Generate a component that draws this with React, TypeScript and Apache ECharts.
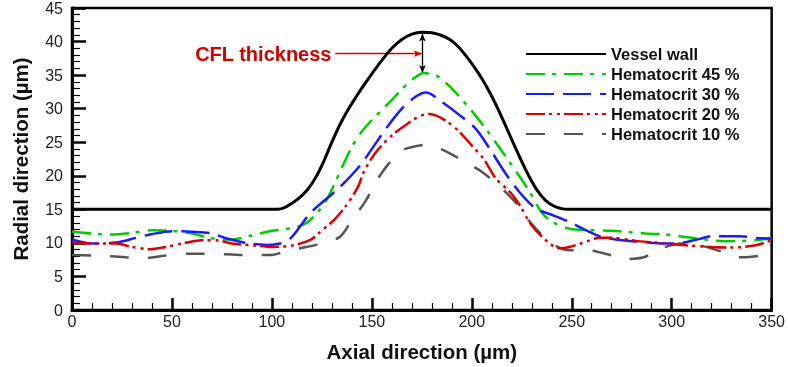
import React, { useEffect, useRef } from "react";
import * as echarts from "echarts";

const xTicks = { min: 0, max: 350, interval: 50 };
const yTicks = { min: 0, max: 45, interval: 5 };

const seriesNames = ["Vessel wall", "Hematocrit 45 %", "Hematocrit 30 %", "Hematocrit 20 %", "Hematocrit 10 %"];

const vesselWall: number[][] = [
  [0, 15], [100, 15], [103, 15], [106, 15.2], [110, 15.9], [114, 16.8], [118, 18.0], [122, 19.8],
  [126, 22.2], [130, 25.0], [134, 27.6], [138, 29.8], [142, 31.7], [146, 33.5], [150, 35.2], [155, 37.2],
  [160, 39.0], [165, 40.3], [170, 41.1], [175, 41.4], [180, 41.3], [185, 40.9], [189, 40.3],
  [193, 39.3], [197, 37.9], [201, 36.3], [205, 34.5], [209, 32.4], [213, 30.0], [217, 27.4],
  [221, 24.7], [225, 22.1], [229, 19.7], [233, 17.7], [237, 16.3], [241, 15.5], [245, 15.1], [248, 15],
  [350, 15],
];

const hct45: number[][] = [
  [0, 11.7], [10, 11.4], [20, 11.25], [30, 11.5], [40, 11.9], [50, 11.8], [60, 11.4], [70, 10.7],
  [80, 10.5], [90, 11.1], [100, 11.8], [110, 12.2], [117, 12.9], [123, 14.6], [127, 16.2], [131, 18.6],
  [135, 21.2], [140, 24.3], [145, 26.6], [150, 28.3], [155, 29.8], [160, 31.3], [165, 32.9], [170, 34.3],
  [176, 35.3], [183, 34.8], [190, 33], [199, 30], [207, 27], [219, 22], [229, 17.6], [235, 14.5],
  [241, 13], [249, 12.1], [258, 11.9], [270, 11.8], [287, 11.4], [297, 11.25], [309, 10.8],
  [327, 10.25], [342, 10.4], [350, 10.7],
];

const hct30: number[][] = [
  [0, 10.5], [10, 9.9], [22, 10.05], [32, 10.75], [39, 11.25], [50, 11.75], [60, 11.65], [70, 11.4],
  [77, 10.7], [89, 9.9], [98, 9.7], [104, 9.9], [109, 10.6], [115, 12.8], [119, 14.4], [127, 16.5],
  [134, 18.3], [144, 21.5], [150, 24], [157, 27], [165, 30], [172, 31.8], [177, 32.4], [185, 31],
  [194, 29], [202, 27], [209, 24], [217, 20.3], [224, 17.5], [232, 15.1], [239, 14.3], [249, 13.1],
  [257, 11.9], [265, 10.9], [275, 10.4], [285, 10.15], [296, 9.9], [302, 9.9], [314, 10.6], [320, 11],
  [334, 11], [342, 10.75], [350, 10.65],
];

const hct20: number[][] = [
  [0, 10.05], [10, 9.9], [22, 9.9], [30, 9.4], [39, 9.05], [47, 9.4], [55, 9.9], [65, 10.4], [72, 10.4],
  [80, 9.9], [90, 9.65], [100, 9.4], [110, 9.6], [119, 10.4], [124, 11.6], [131, 13.4], [137, 15.5],
  [143, 18.3], [146, 20.6], [152, 23.5], [160, 26], [169, 28], [174, 28.9], [179, 29.2], [187, 28.2],
  [194, 26.5], [200, 24.5], [206, 22.5], [212, 19.6], [219, 17.6], [224, 15.6], [230, 12.6], [239, 9.9],
  [244, 9.2], [249, 9.4], [257, 10.15], [264, 10.75], [270, 10.75], [282, 10.3], [292, 10.05],
  [302, 9.75], [320, 9.4], [330, 9.3], [342, 9.65], [350, 10.4],
];

const hct10: number[][] = [
  [0, 8.2], [10, 8.1], [20, 8], [27, 7.85], [39, 7.8], [46, 8.1], [59, 8.4], [66, 8.4], [77, 8.3],
  [84, 8.2], [100, 8.2], [103, 8.4], [114, 9.2], [122, 9.7], [134, 10.9], [140, 13.4], [147, 16.3],
  [152, 19.1], [159, 22], [166, 23.9], [172, 24.4], [177, 24.6], [186, 23.8], [197, 22], [205, 20.6],
  [215, 18.1], [222, 16], [230, 12.8], [240, 9.9], [249, 8.9], [258, 8.9], [268, 8.3], [276, 7.6],
  [286, 7.85], [295, 9.2], [305, 9.9], [314, 9.65], [325, 8.7], [334, 7.85], [344, 8.1], [350, 8.9],
];

// CFL thickness annotation (data coordinates)
const cflArrowStart = [131.8, 38.2];
const cflArrowEnd = [175.0, 38.2];
const cflTop = [175.3, 41.2];
const cflBottom = [175.3, 35.3];

const FONT = "'Liberation Sans', Arial, sans-serif";

export default function App() {
  const ref = useRef<HTMLDivElement>(null);
  useEffect(() => {
    if (!ref.current) return;
    const chart = echarts.init(ref.current, undefined, { renderer: "svg" });
    const mk = (name: string, data: number[][], color: string, width: number, dash: any, z: number, extra: any = {}) => ({
      type: "line",
      name,
      data,
      showSymbol: false,
      symbol: "none",
      smooth: 0.3,
      z,
      lineStyle: { color, width, type: dash },
      itemStyle: { color },
      ...extra,
    });
    chart.setOption({
      animation: false,
      grid: {
        left: 72, right: 16, top: 7, bottom: 55,
        show: true, borderColor: "#000", borderWidth: 2.5, backgroundColor: "transparent",
      },
      legend: {
        orient: "vertical",
        left: 525,
        top: 44,
        padding: 0,
        itemWidth: 80,
        itemHeight: 20,
        itemGap: 0,
        itemStyle: { opacity: 0 },
        textStyle: { fontSize: 16.5, fontWeight: "bold", color: "#111", fontFamily: FONT, lineHeight: 20 },
        data: seriesNames,
      },
      xAxis: {
        type: "value",
        min: xTicks.min, max: xTicks.max, interval: xTicks.interval,
        name: "Axial direction (\u00b5m)",
        nameLocation: "middle",
        nameGap: 31,
        nameTextStyle: { fontSize: 20.5, fontWeight: "bold", color: "#111", fontFamily: FONT },
        axisLine: { show: true, lineStyle: { color: "#000", width: 3 } },
        axisTick: { show: true, inside: true, length: 12, lineStyle: { color: "#000", width: 2.5 } },
        minorTick: { show: true, splitNumber: 5, length: 7, lineStyle: { color: "#000", width: 1.2 } },
        axisLabel: { fontSize: 16, color: "#222", margin: 3, fontFamily: FONT },
        splitLine: { show: false },
      },
      yAxis: {
        type: "value",
        min: yTicks.min, max: yTicks.max, interval: yTicks.interval,
        name: "Radial direction (\u00b5m)",
        nameLocation: "middle",
        nameGap: 41,
        nameTextStyle: { fontSize: 20.5, fontWeight: "bold", color: "#111", fontFamily: FONT },
        axisLine: { show: true, lineStyle: { color: "#000", width: 3 } },
        axisTick: { show: true, inside: true, length: 14, lineStyle: { color: "#000", width: 2.5 } },
        minorTick: { show: true, splitNumber: 5, length: 8, lineStyle: { color: "#000", width: 1.2 } },
        axisLabel: { fontSize: 16, color: "#222", margin: 9, fontFamily: FONT },
        splitLine: { show: false },
      },
      series: [
        mk(seriesNames[0], vesselWall, "#000000", 3, "solid", 10, {
          markLine: {
            silent: true,
            animation: false,
            data: [
              [
                { coord: cflTop, symbol: "arrow", symbolSize: [5, 8] },
                { coord: cflBottom, symbol: "arrow", symbolSize: [5, 8] },
              ],
              [
                {
                  coord: cflArrowStart, symbol: "none",
                  lineStyle: { color: "#e00000", width: 1.3, type: "solid" },
                  label: {
                    show: true, position: "start", formatter: "CFL thickness", distance: 4,
                    color: "#d40000", fontSize: 20, fontWeight: "bold", fontFamily: FONT,
                  },
                },
                { coord: cflArrowEnd, symbol: "arrow", symbolSize: [5, 8] },
              ],
            ],
            lineStyle: { color: "#000", width: 1.3, type: "solid" },
            label: { show: false },
          },
        }),
        mk(seriesNames[1], hct45, "#00cc00", 2.5, [19, 7, 4, 8], 5),
        mk(seriesNames[2], hct30, "#1a1aff", 2.5, [28, 9], 5),
        mk(seriesNames[3], hct20, "#dd0000", 2.5, [19, 4, 3, 5, 3, 4], 5),
        mk(seriesNames[4], hct10, "#555555", 2.5, [19, 19], 4),
      ],
    });
    return () => chart.dispose();
  }, []);
  return <div ref={ref} style={{ width: 788, height: 367, position: "fixed", left: 0, top: 0 }} />;
}
